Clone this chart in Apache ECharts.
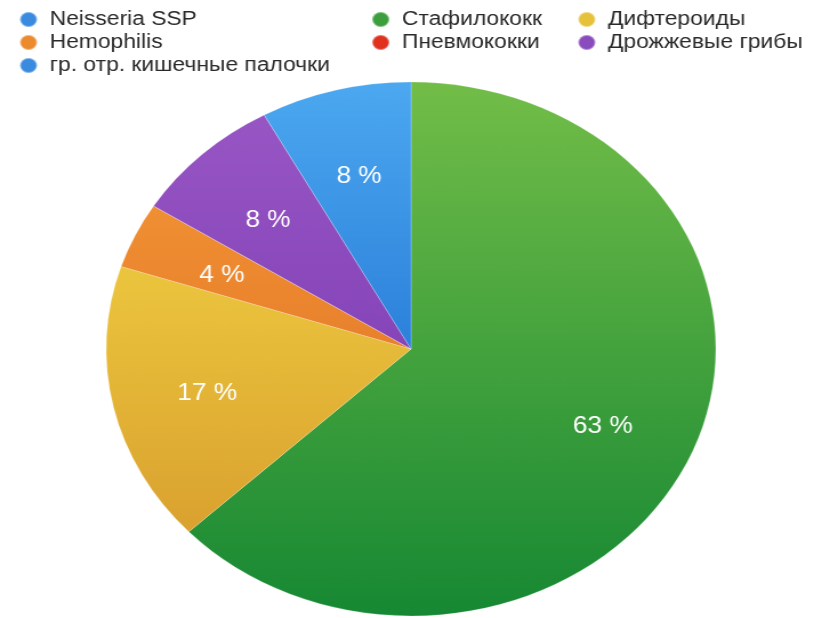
<!DOCTYPE html>
<html>
<head>
<meta charset="utf-8">
<script src="https://cdn.jsdelivr.net/npm/echarts@6/dist/echarts.min.js"></script>
<style>
html,body{margin:0;padding:0;background:#fff;}
#wrap{width:814px;height:618px;overflow:hidden;}
#c{width:713px;height:618px;transform:scaleX(1.1417);transform-origin:0 0;}
</style>
</head>
<body>
<div id="wrap"><div id="c"></div></div>
<script>
const categories = ['Neisseria SSP','Стафилококк','Дифтероиды','Hemophilis','Пневмококки','Дрожжевые грибы','гр. отр. кишечные палочки'];
const values = [0, 63, 17, 4, 0, 8, 8];
const legendCol1 = ['Neisseria SSP','Hemophilis','гр. отр. кишечные палочки'];
const legendCol2 = ['Стафилококк','Пневмококки'];
const legendCol3 = ['Дифтероиды','Дрожжевые грибы'];

const flatColors = {
  'Neisseria SSP': '#3a8ae0',
  'Стафилококк': '#3c9e3c',
  'Дифтероиды': '#e6c13a',
  'Hemophilis': '#ec8a2e',
  'Пневмококки': '#e0301e',
  'Дрожжевые грибы': '#8a4cbc',
  'гр. отр. кишечные палочки': '#3a8ae0'
};
const gradColors = {
  'Neisseria SSP': ['#4ca8f0', '#0b58c4'],
  'Стафилококк': ['#72bd48', '#168833'],
  'Дифтероиды': ['#f8de48', '#d4962a'],
  'Hemophilis': ['#f59c38', '#dc6420'],
  'Пневмококки': ['#f04a30', '#c82010'],
  'Дрожжевые грибы': ['#9a58c6', '#7030aa'],
  'гр. отр. кишечные палочки': ['#4ca8f0', '#0b58c4']
};

function grad(name) {
  const g = gradColors[name];
  return new echarts.graphic.LinearGradient(0, 83, 0, 617, [
    {offset: 0, color: g[0]}, {offset: 1, color: g[1]}
  ], true);
}

const font = "'Liberation Sans', Arial, Helvetica, sans-serif";
function legendFor(names, left) {
  return {
    orient: 'vertical',
    left: left,
    top: 3,
    itemGap: 0,
    itemWidth: 15,
    itemHeight: 15,
    icon: 'circle',
    selectedMode: false,
    textStyle: {fontSize: 20, fontFamily: font, color: '#2a2a2a', lineHeight: 23, padding: [0, 0, 0, 6]},
    data: names.map(n => ({name: n, itemStyle: {color: flatColors[n]}}))
  };
}

const chart = echarts.init(document.getElementById('c'));
chart.setOption({
  animation: false,
  backgroundColor: '#fff',
  legend: [legendFor(legendCol1, 11.5), legendFor(legendCol2, 320), legendFor(legendCol3, 500.5)],
  series: [
    {
      type: 'pie',
      center: [360, 349],
      radius: [0, 267],
      startAngle: 90,
      clockwise: true,
      label: {show: false},
      labelLine: {show: false},
      emphasis: {disabled: true},
      itemStyle: {borderColor: 'rgba(255,255,255,0.35)', borderWidth: 0.6},
      data: categories.map((n, i) => ({name: n, value: values[i], itemStyle: {color: grad(n)}}))
    },
    {
      type: 'pie',
      center: [360, 349],
      radius: [93, 267],
      startAngle: 90,
      clockwise: true,
      silent: true,
      legendHoverLink: false,
      itemStyle: {color: 'rgba(0,0,0,0)', borderWidth: 0},
      emphasis: {disabled: true},
      labelLine: {show: false},
      label: {
        show: true,
        position: 'inside',
        offset: [0, 5],
        color: '#ffffff',
        fontSize: 23,
        fontFamily: font,
        formatter: p => p.value > 0 ? p.percent.toFixed(0) + ' %' : ''
      },
      data: categories.map((n, i) => ({name: n, value: values[i]}))
    }
  ]
});
</script>
</body>
</html>
